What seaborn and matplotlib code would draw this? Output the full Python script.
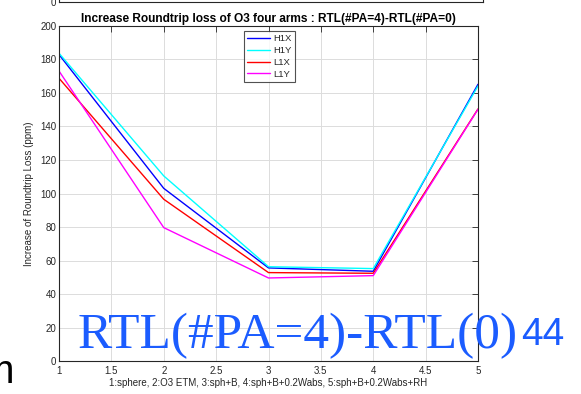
import numpy as np
import pandas as pd
import matplotlib
matplotlib.use("Agg")
import matplotlib.pyplot as plt
import seaborn as sns

# ---- data ----
x_vals = [1, 2, 3, 4, 5]
H1X = [182.8, 103.1, 55.7, 53.7, 165.1]
H1Y = [183.6, 110.5, 56.4, 55.3, 164.1]
L1X = [168.7, 96.6, 52.9, 52.5, 150.4]
L1Y = [173.0, 79.7, 49.7, 51.1, 150.2]
series_names = ["H1X", "H1Y", "L1X", "L1Y"]
colors = {"H1X": "#0000ff", "H1Y": "#00ffff", "L1X": "#ff0000", "L1Y": "#ff00ff"}

title = "Increase Roundtrip loss of O3 four arms : RTL(#PA=4)-RTL(#PA=0)"
xlabel = "1:sphere, 2:O3 ETM, 3:sph+B, 4:sph+B+0.2Wabs, 5:sph+B+0.2Wabs+RH"
ylabel = "Increase of Roundtrip Loss (ppm)"
xticks = [1, 1.5, 2, 2.5, 3, 3.5, 4, 4.5, 5]
xticklabels = ["1", "1.5", "2", "2.5", "3", "3.5", "4", "4.5", "5"]
yticks = [0, 20, 40, 60, 80, 100, 120, 140, 160, 180, 200]

rows = []
for name, vals in zip(series_names, [H1X, H1Y, L1X, L1Y]):
    for xv, yv in zip(x_vals, vals):
        rows.append({"x": xv, "y": yv, "series": name})
df = pd.DataFrame(rows)

sns.set_theme(style="white")
plt.rcParams["font.family"] = ["Liberation Sans", "DejaVu Sans"]

W, H = 581, 394
fig = plt.figure(figsize=(W / 100, H / 100), dpi=100)
fig.patch.set_facecolor("white")

def px_axes(l, r, t, b):
    return fig.add_axes([l / W, 1 - b / H, (r - l) / W, (b - t) / H])

ink = "#262626"

# top partial axes (bottom of a previous plot)
axt = px_axes(59, 483, -60, 1.5)
axt.set_xlim(1, 5)
axt.set_ylim(0, 200)
axt.set_xticks(xticks)
axt.set_xticklabels([])
axt.set_yticks([0])
axt.set_yticklabels(["0"])
axt.tick_params(direction="in", length=4, width=0.6, colors=ink, labelsize=7, pad=2)
for s in axt.spines.values():
    s.set_color(ink)
    s.set_linewidth(0.8)
axt.spines["top"].set_visible(False)

# main axes
ax = px_axes(59, 478, 25.7, 361.4)
sns.lineplot(data=df, x="x", y="y", hue="series", hue_order=series_names,
             palette=colors, linewidth=1.0, ax=ax, legend=False, estimator=None,
             sort=False)
ax.set_xlim(1, 5)
ax.set_ylim(0, 200)
ax.set_xticks(xticks)
ax.set_xticklabels(xticklabels)
ax.set_yticks(yticks)
ax.grid(True, color="#dcdcdc", linewidth=0.7)
ax.set_axisbelow(True)
ax.tick_params(direction="in", length=4, width=0.6, colors=ink, labelsize=7,
               top=True, right=True, pad=3)
ax.tick_params(axis="y", pad=2)
for s in ax.spines.values():
    s.set_color(ink)
    s.set_linewidth(0.8)
ax.set_xlabel(xlabel, fontsize=7, color=ink, labelpad=2)
ax.set_ylabel(ylabel, fontsize=7, color=ink, labelpad=4)
ax.set_title(title, fontsize=8.6, fontweight="bold", color="black", pad=3)

from matplotlib.lines import Line2D
handles = [Line2D([0], [0], color=colors[n], lw=1.0) for n in series_names]
leg = ax.legend(handles, series_names, loc="upper left",
                bbox_to_anchor=((244 - 59) / 419, (361.4 - 31) / 335.7),
                fontsize=6.8, frameon=True, fancybox=False, handlelength=2.4,
                handletextpad=0.4, borderpad=0.35, labelspacing=0.3,
                borderaxespad=0)
leg.get_frame().set_edgecolor(ink)
leg.get_frame().set_linewidth(0.8)
for t in leg.get_texts():
    t.set_color(ink)

# overlay texts
blue = "#1b5cff"
fig.text(78 / W, 1 - 348 / H, "RTL(#PA=4)-RTL(0)", fontsize=37,
         family=["Liberation Serif", "DejaVu Serif"], color=blue,
         ha="left", va="baseline")
fig.text(521 / W, 1 - 345 / H, "44", fontsize=28,
         family=["Liberation Sans", "DejaVu Sans"], color=blue,
         ha="left", va="baseline")
fig.text(14 / W, 1 - 383 / H, "m", fontsize=29,
         family=["Liberation Sans", "DejaVu Sans"], color="black",
         ha="right", va="baseline")

fig.savefig("out.png", dpi=100, facecolor="white")
